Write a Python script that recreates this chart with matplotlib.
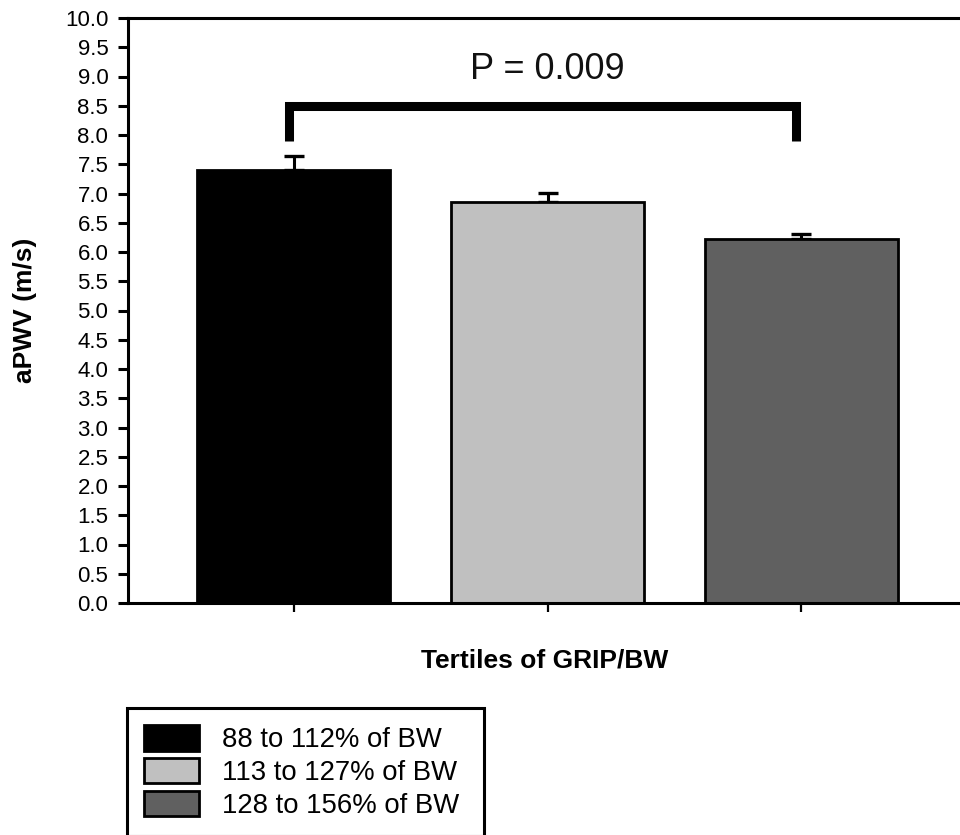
import matplotlib
matplotlib.use("Agg")
import matplotlib.pyplot as plt
from matplotlib.patches import Patch

plt.rcParams["font.family"] = ["Liberation Sans", "DejaVu Sans"]

# aPWV by tertile of grip strength relative to body weight
tertile_labels = ["88 to 112% of BW", "113 to 127% of BW", "128 to 156% of BW"]
apwv_mean = [7.41, 6.85, 6.23]
apwv_sem = [0.23, 0.16, 0.08]
bar_colors = ["#000000", "#c0c0c0", "#606060"]

# comparison between first and third tertile
p_text = "P = 0.009"
bracket_groups = (0, 2)
bracket_top = 8.5
bracket_foot = 7.9

y_ticks = [i * 0.5 for i in range(21)]

fig = plt.figure(figsize=(9.6, 8.35), dpi=100, facecolor="white")
ax = fig.add_axes([128 / 960, 1 - 603 / 835, 838 / 960, 585 / 835])

positions = list(range(len(apwv_mean)))
ax.bar(positions, apwv_mean, width=0.76, color=bar_colors,
       edgecolor="black", linewidth=2.0, zorder=2)
ax.errorbar(positions, apwv_mean, yerr=[[0] * len(apwv_sem), apwv_sem],
            fmt="none", ecolor="black", elinewidth=2.2, capsize=7.5,
            capthick=2.4, zorder=1)

# significance bracket
left, right = bracket_groups
ax.plot([left - 0.018, left - 0.018, right - 0.022, right - 0.022],
        [bracket_foot, bracket_top, bracket_top, bracket_foot],
        color="black", linewidth=6.5, solid_capstyle="butt",
        solid_joinstyle="miter", clip_on=False, zorder=3)
ax.text((left + right) / 2, 8.96, p_text, ha="center", va="baseline",
        fontsize=26, color="#111111")

ax.set_xlim(-0.652, 2.648)
ax.set_ylim(0, 10)
ax.set_yticks(y_ticks)
ax.set_yticklabels([f"{v:.1f}" for v in y_ticks])
ax.set_xticks(positions)
ax.set_xticklabels([])

ax.tick_params(axis="y", direction="out", length=7.2, width=2.2,
               pad=7.0, labelsize=16)
ax.tick_params(axis="x", direction="out", length=6.5, width=1.6)

for side in ("left", "top", "bottom"):
    ax.spines[side].set_linewidth(2.2)
ax.spines["right"].set_visible(False)

ax.set_ylabel("aPWV (m/s)", fontsize=19, fontweight="bold", va="center", ha="center")
ax.yaxis.set_label_coords((25 - 128) / 838, 0.5)
ax.set_xlabel("Tertiles of GRIP/BW", fontsize=19, fontweight="bold", va="center", ha="center")
ax.xaxis.set_label_coords((545 - 128) / 838, (603 - 661) / 585)

handles = [Patch(facecolor=c, edgecolor="black", linewidth=2.0) for c in bar_colors]
legend = fig.legend(handles, tertile_labels, loc="upper left",
                    bbox_to_anchor=(127 / 960, 1 - 834 / 835, 357 / 960, 126 / 835),
                    mode="expand", borderaxespad=0, fontsize=19.8,
                    handlelength=2.0, handleheight=1.05, handletextpad=0.85,
                    labelspacing=0.17, borderpad=0.62, fancybox=False,
                    framealpha=1, edgecolor="black")
legend.get_frame().set_linewidth(2.2)

fig.savefig("out.png", dpi=100, facecolor="white")
